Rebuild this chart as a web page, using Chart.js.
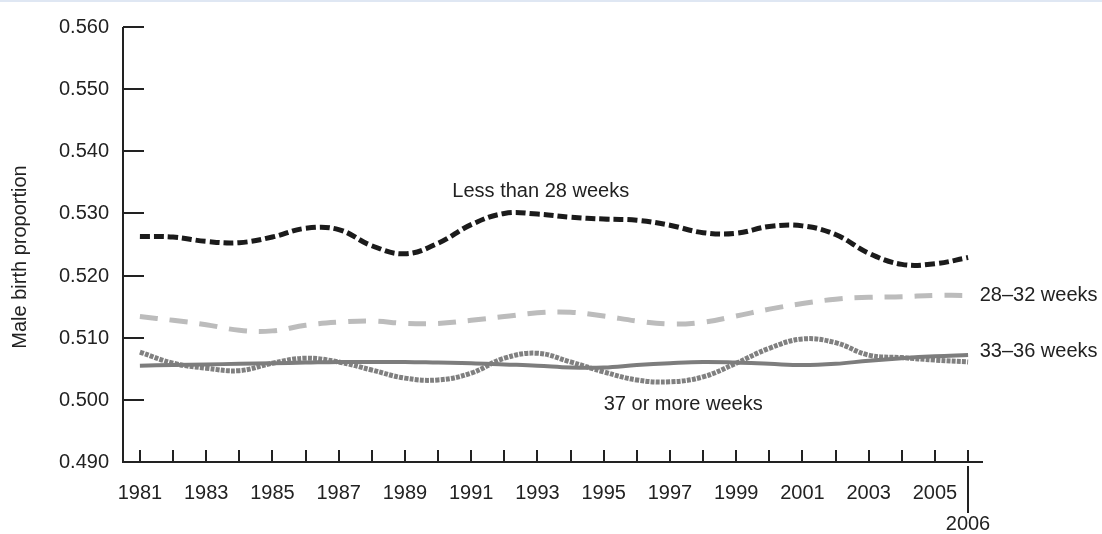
<!DOCTYPE html>
<html>
<head>
<meta charset="utf-8">
<script src="https://cdn.jsdelivr.net/npm/chart.js@4"></script>
<style>
  html, body { margin: 0; padding: 0; background: #fff; }
  body { width: 1102px; height: 534px; overflow: hidden; position: relative; }
  .topline { position: absolute; left: 0; top: 0; width: 1102px; height: 2px; background: #dfe7f3; }
  #wrap { position: absolute; left: 0; top: 0; width: 1102px; height: 534px; }
</style>
</head>
<body>
<div id="wrap"><canvas id="chart" width="1102" height="534"></canvas></div>
<div class="topline"></div>
<script>
const YEARS = [1981, 1982, 1983, 1984, 1985, 1986, 1987, 1988, 1989, 1990, 1991, 1992, 1993,
    1994, 1995, 1996, 1997, 1998, 1999, 2000, 2001, 2002, 2003, 2004, 2005, 2006];

const LESS_28 = [0.5263, 0.5262, 0.5255, 0.5253, 0.5262, 0.5276, 0.5274, 0.5248, 0.5235, 0.5252, 0.5282, 0.5300, 0.5299,
    0.5294, 0.5291, 0.5289, 0.5281, 0.5269, 0.5268, 0.5279, 0.5280, 0.5266, 0.5236, 0.5218, 0.5219, 0.5229];
const W28_32 = [0.5134, 0.5128, 0.5121, 0.5112, 0.5111, 0.5120, 0.5125, 0.5127, 0.5123, 0.5123, 0.5128, 0.5134, 0.5140,
    0.5141, 0.5135, 0.5127, 0.5122, 0.5125, 0.5135, 0.5146, 0.5155, 0.5162, 0.5165, 0.5166, 0.5168, 0.5168];
const W33_36 = [0.5077, 0.5059, 0.5051, 0.5047, 0.5059, 0.5067, 0.5061, 0.5048, 0.5035, 0.5032, 0.5043, 0.5067, 0.5075,
    0.5061, 0.5045, 0.5032, 0.5029, 0.5037, 0.5059, 0.5083, 0.5098, 0.5092, 0.5072, 0.5068, 0.5064, 0.5061];
const W37_PLUS = [0.5055, 0.5056, 0.5057, 0.5058, 0.5059, 0.5060, 0.5061, 0.5061, 0.5061, 0.5060, 0.5059, 0.5057, 0.5055,
    0.5052, 0.5052, 0.5056, 0.5059, 0.5061, 0.5060, 0.5058, 0.5056, 0.5058, 0.5063, 0.5067, 0.5070, 0.5072];

const Y_TICKS = [0.490, 0.500, 0.510, 0.520, 0.530, 0.540, 0.550, 0.560];
const X_LABELS = [1981, 1983, 1985, 1987, 1989, 1991, 1993, 1995, 1997, 1999, 2001, 2003, 2005];
const LAST_YEAR = 2006;

// text notes placed in data units
const NOTES = [
    { text: 'Less than 28 weeks', x: 1993.1, y: 0.5336, align: 'center' },
    { text: '28–32 weeks', x: 2006.35, y: 0.5168, align: 'left' },
    { text: '33–36 weeks', x: 2006.35, y: 0.5078, align: 'left' },
    { text: '37 or more weeks', x: 1997.4, y: 0.4992, align: 'center' }
];

const FONT = '"Liberation Sans", Arial, sans-serif';
const INK = '#222';

const pts = arr => arr.map((v, i) => ({ x: YEARS[i], y: v }));

const axesPlugin = {
    id: 'axesPlugin',
    afterDraw(chart) {
        const { ctx, chartArea: a, scales: { x, y } } = chart;
        ctx.save();
        ctx.strokeStyle = INK;
        ctx.lineWidth = 2;
        ctx.beginPath();
        ctx.moveTo(a.left, a.top); ctx.lineTo(a.left, a.bottom); ctx.lineTo(a.right, a.bottom);
        ctx.stroke();

        ctx.fillStyle = INK;
        ctx.font = '20px ' + FONT;
        ctx.textAlign = 'right';
        ctx.textBaseline = 'middle';
        Y_TICKS.forEach(v => {
            const py = Math.round(y.getPixelForValue(v));
            ctx.beginPath(); ctx.moveTo(a.left, py); ctx.lineTo(a.left + 21, py); ctx.stroke();
            ctx.fillText(v.toFixed(3), a.left - 14, py);
        });

        for (let yr = YEARS[0]; yr <= LAST_YEAR; yr++) {
            const px = Math.round(x.getPixelForValue(yr));
            ctx.beginPath(); ctx.moveTo(px, a.bottom); ctx.lineTo(px, a.bottom - 12); ctx.stroke();
        }
        ctx.textAlign = 'center';
        ctx.textBaseline = 'middle';
        X_LABELS.forEach(yr => ctx.fillText(String(yr), x.getPixelForValue(yr), a.bottom + 31));
        const lx = Math.round(x.getPixelForValue(LAST_YEAR));
        ctx.beginPath(); ctx.moveTo(lx, a.bottom + 4); ctx.lineTo(lx, a.bottom + 51); ctx.stroke();
        ctx.fillText(String(LAST_YEAR), lx, a.bottom + 62);

        NOTES.forEach(n => {
            ctx.textAlign = n.align;
            ctx.fillText(n.text, x.getPixelForValue(n.x), y.getPixelForValue(n.y));
        });

        ctx.translate(20, 257);
        ctx.rotate(-Math.PI / 2);
        ctx.font = '20px ' + FONT;
        ctx.textAlign = 'center';
        ctx.fillText('Male birth proportion', 0, 0);
        ctx.restore();
    }
};

new Chart(document.getElementById('chart'), {
    type: 'line',
    data: {
        datasets: [
            { label: 'Less than 28 weeks', data: pts(LESS_28), borderColor: '#1b1b1b', borderWidth: 5, borderDash: [10, 4] },
            { label: '28–32 weeks', data: pts(W28_32), borderColor: '#bcbcbc', borderWidth: 5, borderDash: [18, 12] },
            { label: '37 or more weeks', data: pts(W37_PLUS), borderColor: '#7d7d7d', borderWidth: 4 },
            { label: '33–36 weeks', data: pts(W33_36), borderColor: '#808080', borderWidth: 5, borderDash: [4, 1.2] }
        ]
    },
    options: {
        responsive: false,
        animation: false,
        devicePixelRatio: 1,
        layout: { padding: { left: 123, right: 119, top: 27, bottom: 72 } },
        elements: { point: { radius: 0 }, line: { tension: 0.4, fill: false } },
        plugins: { legend: { display: false }, tooltip: { enabled: false } },
        scales: {
            x: { type: 'linear', min: 1980.49, max: 2006.45, display: false },
            y: { min: 0.490, max: 0.560, display: false }
        }
    },
    plugins: [axesPlugin]
});
</script>
</body>
</html>
